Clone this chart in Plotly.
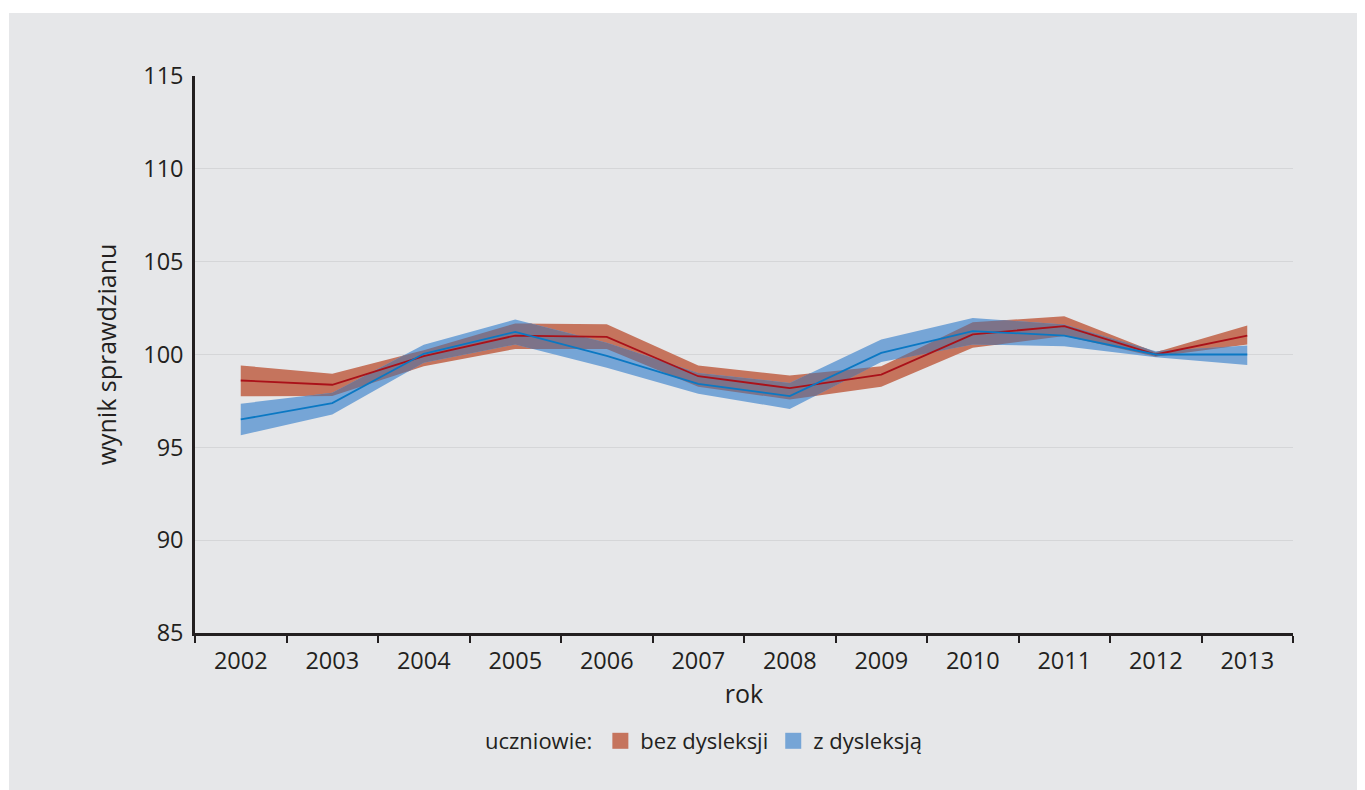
import plotly.graph_objects as go

years = ["2002", "2003", "2004", "2005", "2006", "2007", "2008", "2009", "2010", "2011", "2012", "2013"]

red_mean = [98.60, 98.37, 99.91, 101.02, 100.95, 98.83, 98.19, 98.92, 101.08, 101.53, 100.00, 101.02]
red_upper = [99.41, 98.96, 100.23, 101.67, 101.63, 99.41, 98.87, 99.37, 101.74, 102.06, 100.12, 101.56]
red_lower = [97.75, 97.76, 99.37, 100.30, 100.30, 98.26, 97.58, 98.26, 100.36, 100.99, 99.88, 100.54]

blue_mean = [96.50, 97.38, 100.04, 101.22, 99.93, 98.42, 97.76, 100.09, 101.26, 101.02, 100.00, 100.00]
blue_upper = [97.35, 97.94, 100.52, 101.88, 100.63, 99.01, 98.47, 100.81, 101.97, 101.62, 100.18, 100.48]
blue_lower = [95.65, 96.77, 99.55, 100.54, 99.28, 97.88, 97.07, 99.59, 100.54, 100.45, 99.85, 99.44]

legend_title = "uczniowie:"
name_red = "bez dysleksji"
name_blue = "z dysleksją"

RED_FILL = "#c5745d"
BLUE_FILL = "#76a5d6"
OVER_FILL = "#7d7389"
RED_LINE = "#aa1119"
BLUE_LINE = "#0b78c3"
BG = "#e6e7e9"
INK = "#231f20"
FONT = "Open Sans"

xs = list(range(len(years)))


def band_polygon(upper, lower):
    px = xs + xs[::-1]
    py = list(upper) + list(lower)[::-1]
    return px, py


def overlap_polygon():
    """Region where both bands overlap, computed exactly per segment."""
    top_pts, bot_pts = [], []

    def lin(a, b, t):
        return a + (b - a) * t

    for i in range(len(xs) - 1):
        ur = (red_upper[i], red_upper[i + 1])
        ub = (blue_upper[i], blue_upper[i + 1])
        lr = (red_lower[i], red_lower[i + 1])
        lb = (blue_lower[i], blue_lower[i + 1])
        ts = {0.0, 1.0}
        for (a, b) in ((ur, ub), (lr, lb)):
            d0 = a[0] - b[0]
            d1 = a[1] - b[1]
            if d0 * d1 < 0:
                ts.add(d0 / (d0 - d1))
        ts = sorted(ts)

        def tb(t):
            top = min(lin(*ur, t), lin(*ub, t))
            bot = max(lin(*lr, t), lin(*lb, t))
            return top, bot

        ts2 = set(ts)
        for k in range(len(ts) - 1):
            t0, t1 = ts[k], ts[k + 1]
            a0, b0 = tb(t0)
            a1, b1 = tb(t1)
            h0, h1 = a0 - b0, a1 - b1
            if h0 * h1 < 0:
                ts2.add(t0 + (t1 - t0) * h0 / (h0 - h1))
        ts2 = sorted(ts2)
        for t in ts2:
            if i > 0 and t == 0.0:
                continue
            top, bot = tb(t)
            if top < bot:
                top = bot
            top_pts.append((xs[i] + t, top))
            bot_pts.append((xs[i] + t, bot))
    px = [p[0] for p in top_pts] + [p[0] for p in bot_pts[::-1]]
    py = [p[1] for p in top_pts] + [p[1] for p in bot_pts[::-1]]
    return px, py


fig = go.Figure()

rx, ry = band_polygon(red_upper, red_lower)
fig.add_trace(go.Scatter(x=rx, y=ry, fill="toself", fillcolor=RED_FILL, mode="none",
                         showlegend=False, hoverinfo="skip"))
bx, by = band_polygon(blue_upper, blue_lower)
fig.add_trace(go.Scatter(x=bx, y=by, fill="toself", fillcolor=BLUE_FILL, mode="none",
                         showlegend=False, hoverinfo="skip"))
ox, oy = overlap_polygon()
fig.add_trace(go.Scatter(x=ox, y=oy, fill="toself", fillcolor=OVER_FILL, mode="none",
                         showlegend=False, hoverinfo="skip"))

fig.add_trace(go.Scatter(x=xs, y=red_mean, mode="lines", line=dict(color=RED_LINE, width=1.8),
                         showlegend=False))
fig.add_trace(go.Scatter(x=xs, y=blue_mean, mode="lines", line=dict(color=BLUE_LINE, width=1.8),
                         showlegend=False))

# legend entries
fig.add_trace(go.Scatter(x=[None], y=[None], mode="markers", name=name_red,
                         marker=dict(symbol="square", size=18, color=RED_FILL)))
fig.add_trace(go.Scatter(x=[None], y=[None], mode="markers", name=name_blue,
                         marker=dict(symbol="square", size=18, color=BLUE_FILL)))

# page has an 8px body margin; figure sized to fill the rest of the window
OFF = 8
W, H = 1365 - OFF, 790 - OFF
L, T = 195 - OFF, 76 - OFF
pw, ph = 1098, 557
R = W - L - pw
B = H - T - ph

fig.add_shape(type="rect", xref="paper", yref="paper",
              x0=(9 - OFF - L) / pw, x1=(W + 5 - L) / pw,
              y0=(T + ph - (H + 5)) / ph, y1=(T + ph - (13 - OFF)) / ph,
              fillcolor=BG, line=dict(width=0), layer="below")

fig.update_layout(
    width=W, height=H,
    margin=dict(l=L, r=R, t=T, b=B, autoexpand=False),
    paper_bgcolor="white",
    plot_bgcolor=BG,
    font=dict(family=FONT, size=22, color=INK),
    showlegend=True,
    legend=dict(
        orientation="h",
        x=(705 - 195) / pw, xanchor="center",
        y=(633 - 741) / ph, yanchor="middle",
        bgcolor="rgba(0,0,0,0)",
        title=dict(text=legend_title, font=dict(size=22, color=INK)),
        font=dict(size=22, color=INK),
        itemwidth=30,
        tracegroupgap=0,
    ),
)

fig.update_xaxes(
    range=[-0.5, len(years) - 0.5],
    tickmode="array", tickvals=xs, ticktext=years,
    ticks="", showgrid=False, zeroline=False,
    showline=True, linecolor=INK, linewidth=2.5,
    tickfont=dict(size=23.5, color=INK),
    ticklabelstandoff=5,
    minor=dict(tickmode="linear", tick0=-0.5, dtick=1, ticks="outside",
               ticklen=7, tickwidth=2, tickcolor=INK, showgrid=False),
    title=dict(text="rok", font=dict(size=25, color=INK), standoff=8),
)

fig.update_yaxes(
    range=[85, 115], dtick=5, tick0=85,
    ticks="", showgrid=True, gridcolor="#d5d6d8", gridwidth=1,
    zeroline=False,
    showline=True, linecolor=INK, linewidth=2.5,
    tickfont=dict(size=23.5, color=INK),
    ticklabelstandoff=4,
    title=dict(text="wynik sprawdzianu", font=dict(size=25, color=INK), standoff=20),
)

fig.write_html("out.html")
